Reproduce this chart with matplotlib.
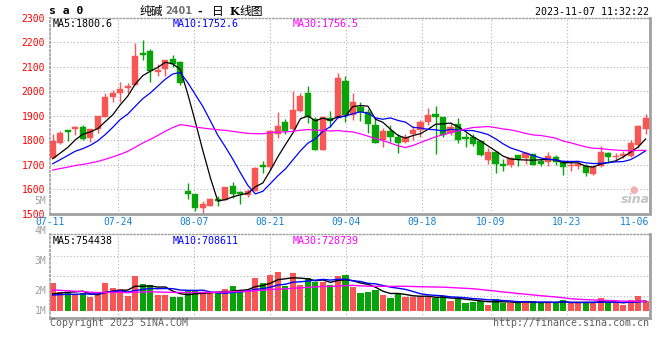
import matplotlib
matplotlib.use("Agg")
import matplotlib.pyplot as plt
import numpy as np

# ---------------- data ----------------
date_labels = ["07-11", "07-24", "08-07", "08-21", "09-04", "09-18", "10-09", "10-23", "11-06"]
date_label_idx = [0, 9, 19, 29, 39, 49, 58, 68, 78]

opens = [1728, 1789, 1841, 1845, 1854, 1810, 1848, 1897, 1978, 1993,
         2014, 2027, 2155, 2166, 2080, 2093, 2132, 2120, 1595, 1581,
         1524, 1533, 1561, 1555, 1614, 1590, 1576, 1594, 1700, 1690,
         1826, 1875, 1846, 1920, 1993, 1886, 1760, 1892, 1892, 2042,
         1903, 1937, 1914, 1862, 1801, 1838, 1814, 1793, 1826, 1842,
         1873, 1909, 1897, 1828, 1866, 1812, 1812, 1798, 1719, 1754,
         1703, 1700, 1739, 1727, 1746, 1716, 1711, 1733, 1712, 1696,
         1697, 1696, 1662, 1696, 1750, 1730, 1737, 1737, 1780, 1845]
highs = [1826, 1839, 1841, 1860, 1863, 1846, 1899, 1993, 2007, 2037,
         2034, 2197, 2210, 2174, 2112, 2127, 2147, 2124, 1626, 1581,
         1551, 1565, 1571, 1610, 1629, 1595, 1600, 1692, 1716, 1840,
         1914, 1886, 2001, 1993, 2022, 1894, 1894, 1920, 2076, 2064,
         1992, 1956, 1927, 1894, 1852, 1862, 1824, 1826, 1860, 1883,
         1933, 1941, 1897, 1873, 1890, 1828, 1825, 1798, 1768, 1757,
         1723, 1733, 1739, 1754, 1746, 1723, 1754, 1739, 1720, 1712,
         1716, 1703, 1699, 1777, 1754, 1750, 1757, 1802, 1862, 1907]
lows = [1728, 1785, 1797, 1820, 1803, 1793, 1830, 1897, 1956, 1956,
        1993, 2027, 2129, 2038, 2061, 2061, 2098, 2024, 1562, 1513,
        1503, 1531, 1533, 1555, 1565, 1540, 1567, 1594, 1665, 1680,
        1811, 1826, 1842, 1917, 1869, 1760, 1760, 1856, 1892, 1873,
        1883, 1879, 1831, 1788, 1774, 1792, 1750, 1790, 1801, 1815,
        1862, 1743, 1815, 1822, 1788, 1773, 1778, 1737, 1705, 1666,
        1673, 1692, 1696, 1703, 1699, 1696, 1696, 1700, 1659, 1675,
        1682, 1655, 1659, 1692, 1709, 1720, 1727, 1730, 1770, 1825]
closes = [1799, 1830, 1835, 1854, 1805, 1846, 1899, 1977, 1993, 2010,
          2023, 2146, 2147, 2084, 2088, 2127, 2113, 2034, 1580, 1524,
          1540, 1561, 1554, 1610, 1582, 1581, 1592, 1686, 1690, 1838,
          1858, 1839, 1924, 1981, 1894, 1760, 1894, 1880, 2056, 1903,
          1956, 1914, 1868, 1790, 1838, 1815, 1790, 1812, 1842, 1876,
          1903, 1894, 1822, 1856, 1802, 1805, 1784, 1739, 1754, 1703,
          1697, 1727, 1723, 1748, 1700, 1705, 1734, 1712, 1692, 1699,
          1703, 1666, 1693, 1754, 1730, 1737, 1746, 1791, 1860, 1893]
# closes before the visible window (estimated from where the MA lines start)
hist_closes = [1650, 1660, 1655, 1665, 1690, 1700, 1710, 1700, 1695, 1660,
               1640, 1630, 1640, 1610, 1615, 1650, 1680, 1705, 1690, 1670,
               1665, 1665, 1680, 1700, 1710, 1715, 1720, 1700, 1690]

# volume in lots
volumes = [2200000, 1490000, 1360000, 1230000, 1410000, 1050000, 1230000, 2200000, 1810000, 1700000,
           1180000, 2750000, 2100000, 2020000, 1230000, 1230000, 1100000, 1100000, 1620000, 1620000,
           1360000, 1360000, 1360000, 1700000, 1940000, 1620000, 1620000, 2590000, 2150000, 2800000,
           3040000, 1970000, 2960000, 2020000, 2540000, 2280000, 2280000, 2020000, 2750000, 2830000,
           1890000, 1410000, 1490000, 1620000, 1230000, 1020000, 1410000, 1100000, 1100000, 1050000,
           1050000, 970000, 1150000, 760000, 970000, 630000, 710000, 790000, 450000, 920000,
           630000, 630000, 580000, 680000, 760000, 580000, 680000, 580000, 840000, 580000,
           580000, 680000, 580000, 970000, 580000, 580000, 450000, 840000, 1150000, 760000]
hist_volumes = [2400000, 2500000, 2200000, 2300000, 2400000, 2300000, 1800000, 1700000, 1600000, 1900000,
                1700000, 1500000, 1600000, 1800000, 1700000, 1500000, 1400000, 1600000, 1500000, 1300000,
                1200000, 1100000, 1200000, 1150000, 1100000, 1100000, 1050000, 1100000, 1100000]

price_ticks = [1500, 1600, 1700, 1800, 1900, 2000, 2100, 2200, 2300]
vol_tick_labels = ["5M", "4M", "3M", "2M", "1M"]

symbol = "s a 0"
title_parts = ["纯碱", "2401", "-", "日", "K", "线图"]
timestamp = "2023-11-07 11:32:22"
ma_price_texts = ["MA5:1800.6", "MA10:1752.6", "MA30:1756.5"]
ma_vol_texts = ["MA5:754438", "MA10:708611", "MA30:728739"]
copyright_text = "Copyright 2023 SINA.COM"
url_text = "http://finance.sina.com.cn"

# ---------------- styling ----------------
RED = "#f85555"
GREEN = "#08a308"
MA_COLORS = ["#000000", "#0000ff", "#ff00ff"]
GRID = "#b4b4b4"
DATE_BLUE = "#1581d4"
MONO = "DejaVu Sans Mono"
CJK = ["Noto Sans CJK SC", "DejaVu Sans"]
plt.rcParams['font.family'] = ['DejaVu Sans', 'Noto Sans CJK SC']

W, H = 660, 360
fig = plt.figure(figsize=(6.6, 3.6), dpi=100)


def px_rect(x0, y0, x1, y1):
    return [x0 / W, 1 - y1 / H, (x1 - x0) / W, (y1 - y0) / H]


def ftext(x, y, s, **kw):
    return fig.text(x / W, 1 - y / H, s, **kw)


n = len(closes)
xs = np.arange(n)
XLIM = (-0.36, 79.51)
grid_step = 7.6 / 7.506          # date grid spacing relative to candle spacing


def gx(i):
    return XLIM[0] + i * grid_step


def sma(values, k):
    a = np.asarray(values, float)
    return np.convolve(a, np.ones(k) / k, mode="valid")[-n:]


o = np.array(opens, float)
c = np.array(closes, float)
hi = np.array(highs, float)
lo = np.array(lows, float)
up = c >= o
cols = np.where(up, RED, GREEN)

# ---------------- price panel ----------------
ax = fig.add_axes(px_rect(50, 17.8, 649.5, 213.8))
ax.set_xlim(*XLIM)
ax.set_ylim(1500, 2300)
for p in price_ticks[1:-1]:
    ax.axhline(p, color=GRID, lw=0.8, ls=(0, (1, 2)), zorder=0)
for i in date_label_idx[1:-1]:
    ax.axvline(gx(i), color=GRID, lw=0.8, ls=(0, (1, 2)), zorder=0)

ax.vlines(xs, lo, hi, colors=cols, lw=1.0, zorder=2)
body_h = np.maximum(np.abs(c - o), 2.0)
ax.bar(xs, body_h, bottom=np.minimum(o, c), width=0.82, color=cols,
       edgecolor=cols, linewidth=0.3, zorder=3)

full_c = hist_closes + closes
for k, col in zip([5, 10, 30], MA_COLORS):
    ax.plot(xs, sma(full_c, k), color=col, lw=0.9, zorder=4)

ax.set_yticks(price_ticks)
ax.set_yticklabels([str(p) for p in price_ticks], family=MONO, fontsize=7.0, color="#ff0000")
ax.tick_params(axis="y", length=0, pad=3.5)
ax.set_xticks([])

for side, sp in ax.spines.items():
    sp.set_color("#a0a0a0")
ax.spines["top"].set_linestyle((0, (1, 1.5)))
ax.spines["top"].set_linewidth(1.0)
ax.spines["left"].set_linestyle((0, (1, 1.5)))
ax.spines["left"].set_linewidth(1.2)
ax.spines["bottom"].set_linestyle((0, (1, 1)))
ax.spines["bottom"].set_linewidth(2.0)
ax.spines["right"].set_linewidth(2.0)

# date labels
for lab, i in zip(date_labels, date_label_idx):
    if i == date_label_idx[-1]:
        ftext(649, 222.0, lab, family=MONO, fontsize=7.0, color=DATE_BLUE, ha="right", va="center")
    else:
        px = 52.7 + gx(i) * 7.506
        ftext(px, 222.0, lab, family=MONO, fontsize=7.0, color=DATE_BLUE, ha="center", va="center")

# ---------------- volume panel ----------------
VPX = 78600.0  # lots per pixel
axv = fig.add_axes(px_rect(50, 234, 649.5, 318))
axv.set_xlim(*XLIM)
axv.set_ylim(-(318 - 310.7) * VPX, (310.7 - 234) * VPX)
for ypx in (256, 276, 296):
    axv.axhline((310.7 - ypx) * VPX, color=GRID, lw=0.8, ls=(0, (1, 2)), zorder=0)
for i in date_label_idx[1:-1]:
    axv.axvline(gx(i), color=GRID, lw=0.8, ls=(0, (1, 2)), zorder=0)
axv.bar(xs, volumes, width=0.82, color=cols, zorder=2)
full_v = hist_volumes + volumes
for k, col in zip([5, 10, 30], MA_COLORS):
    axv.plot(xs, sma(full_v, k), color=col, lw=1.0, zorder=3)
axv.set_xticks([])
axv.set_yticks([])
for side, sp in axv.spines.items():
    sp.set_color("#a0a0a0")
axv.spines["top"].set_linestyle((0, (1, 1.5)))
axv.spines["top"].set_linewidth(1.0)
axv.spines["left"].set_linestyle((0, (1, 1.5)))
axv.spines["left"].set_linewidth(1.2)
axv.spines["bottom"].set_linewidth(2.0)
axv.spines["right"].set_linewidth(2.0)

for lab, ypx in zip(vol_tick_labels, (200.7, 231.2, 260.7, 290.7, 310.7)):
    ftext(46.5, ypx, lab, family=MONO, fontsize=7.0, color="#a0a0a0", ha="right", va="center")

# ---------------- texts ----------------
ftext(49, 11.5, symbol, family=MONO, fontsize=8.2, fontweight="bold", color="#000000", va="center")
title_x = [140, 165, 197, 212, 229.5, 239.5]
title_style = [dict(family=CJK, fontsize=8.5, color="#000000"),
               dict(family="DejaVu Sans", fontsize=7.0, fontweight="bold", color="#707070"),
               dict(family="DejaVu Sans", fontsize=8.0, fontweight="bold", color="#000000"),
               dict(family=CJK, fontsize=8.5, color="#000000"),
               dict(family="DejaVu Serif", fontsize=8.0, fontweight="bold", color="#000000"),
               dict(family=CJK, fontsize=8.5, color="#000000")]
for part, x, st in zip(title_parts, title_x, title_style):
    ftext(x, 11.5, part, va="center", **st)
ftext(649, 12.3, timestamp, family=MONO, fontsize=7.2, color="#000000", ha="right", va="center")

for txt, col, x in zip(ma_price_texts, MA_COLORS, (53, 173, 293)):
    ftext(x, 24.2, txt, family=MONO, fontsize=7.2, color=col, va="center")
for txt, col, x in zip(ma_vol_texts, MA_COLORS, (53, 173, 293)):
    ftext(x, 240.5, txt, family=MONO, fontsize=7.2, color=col, va="center")

ftext(50, 323, copyright_text, family=MONO, fontsize=7.2, color="#606060", va="center")
ftext(649, 323, url_text, family=MONO, fontsize=7.2, color="#606060", ha="right", va="center")

# sina watermark
ftext(634, 189.5, "●", fontsize=7, color="#f3b0b0", ha="center", va="center")
ftext(635, 199.5, "sina", fontsize=9, fontweight="bold", style="italic", color="#c4c4c4", ha="center", va="center")

fig.savefig("out.png", dpi=100)
